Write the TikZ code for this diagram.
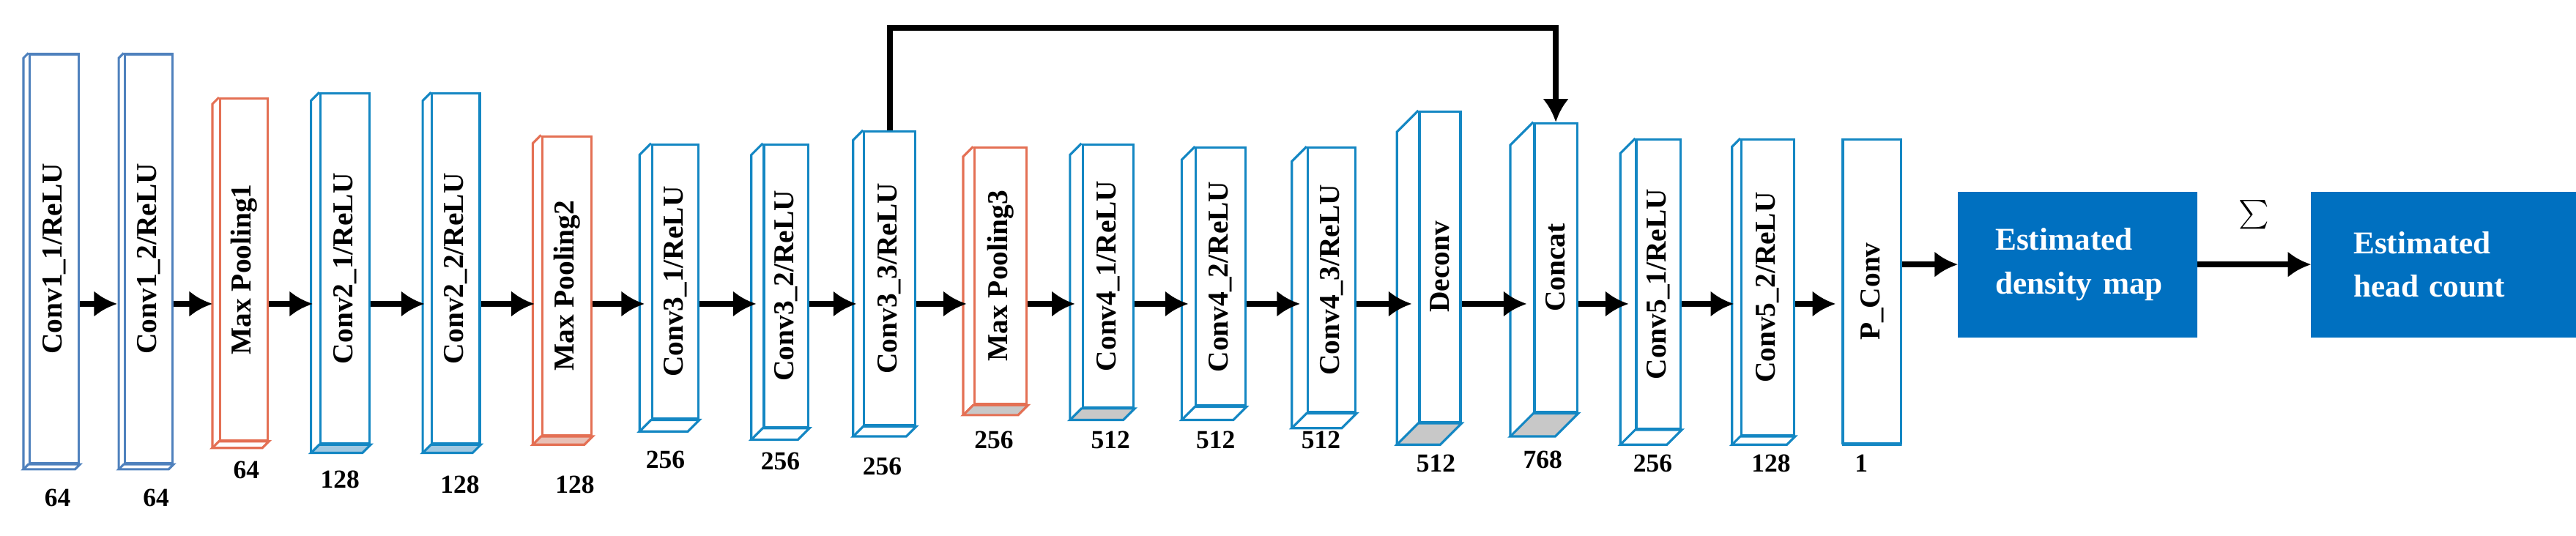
\documentclass[tikz,border=0pt]{standalone}
\usepackage{fontspec}
\setmainfont{Liberation Serif}
\usetikzlibrary{calc,arrows.meta}
\definecolor{convA}{RGB}{79,129,189}
\definecolor{convB}{RGB}{20,135,195}
\definecolor{poolC}{RGB}{228,112,84}
\definecolor{outB}{RGB}{0,112,192}
\definecolor{baseB}{RGB}{160,200,225}
\definecolor{baseP}{RGB}{232,192,182}
\definecolor{baseG}{RGB}{200,200,200}
\tikzset{
  box/.style={draw,line width=0.8pt,fill=white,inner sep=0pt,font=\bfseries\fontsize{10}{12}\selectfont},
  num/.style={font=\bfseries\fontsize{9}{11}\selectfont,inner sep=1pt},
  arr/.style={line width=2pt,-{Latex[length=8pt,width=9pt]}},
  outbox/.style={fill=outB,draw=outB,text=white,inner sep=0pt,align=left,
    font=\bfseries\fontsize{11}{15}\selectfont,text width=2.5cm}
}
% #1 name, #2 left, #3 right, #4 top, #5 bottom, #6 depth, #7 colour, #8 base fill, #9 text
\newcommand\layer[9]{%
  \pgfmathsetmacro\fw{(#3-#2-#6)*0.02}%
  \pgfmathsetmacro\fh{(#5-#4)*0.02}%
  \node[box,draw=#7,minimum width=\fw cm,minimum height=\fh cm] (#1)
    at ({(#2+#6+#3)/2},{(#4+#5)/2}) {\rotatebox{90}{#9}};
  \filldraw[fill=#8,draw=#7,line width=0.8pt] (#1.south west) -- ++(-#6,#6)
    -- ($(#1.south east)+(-#6,#6)$) -- (#1.south east) -- cycle;
  \draw[#7,line width=0.8pt] (#1.north west) -- ++(-#6,#6)
    -- ($(#1.south west)+(-#6,#6)$);
}
\begin{document}
\begin{tikzpicture}[x=0.02cm,y=-0.02cm]
\useasboundingbox (0,0) rectangle (1568,326);
% feature layers
\layer{c11}{15}{48}{33}{282}{3}{convA}{white}{Conv1\_1/ReLU}
\layer{c12}{73}{105}{33}{282}{3}{convA}{white}{Conv1\_2/ReLU}
\layer{p1}{130}{163}{60}{268}{4}{poolC}{white}{Max Pooling1}
\layer{c21}{190}{225}{57}{270}{5}{convB}{baseB}{Conv2\_1/ReLU}
\layer{c22}{258}{292}{57}{270}{5}{convB}{baseB}{Conv2\_2/ReLU}
\layer{p2}{325}{360}{83}{265}{5}{poolC}{baseP}{Max Pooling2}
\layer{c31}{390}{425}{88}{255}{7}{convB}{white}{Conv3\_1/ReLU}
\layer{c32}{458}{492}{88}{260}{7}{convB}{white}{Conv3\_2/ReLU}
\layer{c33}{520}{557}{80}{259}{6}{convB}{white}{Conv3\_3/ReLU}
\layer{p3}{587}{625}{90}{246}{6}{poolC}{baseG}{Max Pooling3}
\layer{c41}{652}{690}{88}{248}{7}{convB}{baseG}{Conv4\_1/ReLU}
\layer{c42}{720}{758}{90}{247}{8}{convB}{white}{Conv4\_2/ReLU}
\layer{c43}{787}{825}{90}{251}{9}{convB}{white}{Conv4\_3/ReLU}
\layer{dec}{851}{889}{68}{257}{13}{convB}{baseG}{Deconv}
\layer{cat}{920}{960}{75}{251}{14}{convB}{baseG}{Concat}
\layer{c51}{987}{1023}{85}{261}{9}{convB}{white}{Conv5\_1/ReLU}
\layer{c52}{1055}{1092}{85}{265}{5}{convB}{white}{Conv5\_2/ReLU}
\layer{pconv}{1122}{1157}{85}{270}{0}{convB}{white}{P\_Conv}
% outputs
\node[outbox,minimum width=2.9cm,minimum height=1.76cm] (dmap) at (1264.5,161)
  {\hspace*{0.25cm}Estimated\\\hspace*{0.25cm}density map};
\node[outbox,minimum width=3.22cm,minimum height=1.76cm] (count) at (1487.5,161)
  {\hspace*{0.15cm}Estimated\\\hspace*{0.15cm}head count};
% channel numbers
\node[num] (n1) at (35,303) {64};
\node[num] (n2) at (95,303) {64};
\node[num] (n3) at (150,286) {64};
\node[num] (n4) at (207,292) {128};
\node[num] (n5) at (280,295) {128};
\node[num] (n6) at (350,295) {128};
\node[num] (n7) at (405,280) {256};
\node[num] (n8) at (475,281) {256};
\node[num] (n9) at (537,284) {256};
\node[num] (n10) at (605,268) {256};
\node[num] (n11) at (676,268) {512};
\node[num] (n12) at (740,268) {512};
\node[num] (n13) at (804,268) {512};
\node[num] (n14) at (874,282) {512};
\node[num] (n15) at (939,280) {768};
\node[num] (n16) at (1006,282) {256};
\node[num] (n17) at (1078,282) {128};
\node[num] (n18) at (1133,282) {1};
% connectors
\coordinate (mid) at (0,185);
\foreach \a/\b in {c11/c12,c12/p1,p1/c21,c21/c22,c22/p2,p2/c31,c31/c32,c32/c33,
  c33/p3,p3/c41,c41/c42,c42/c43,c43/dec,dec/cat,cat/c51,c51/c52,c52/pconv}
  \draw[arr] (\a.east|-mid) -- ($(\b.west|-mid)+(-4,0)$);
\draw[arr] (pconv.east|-dmap) -- (dmap.west);
\draw[arr] (dmap.east) -- node[above=8pt,font=\fontsize{13}{13}\selectfont] {$\sum$} (count.west);
\coordinate (top) at (0,17);
\draw[arr] (c33.north) |- (top-|cat.north) -- (cat.north);
\end{tikzpicture}
\end{document}
